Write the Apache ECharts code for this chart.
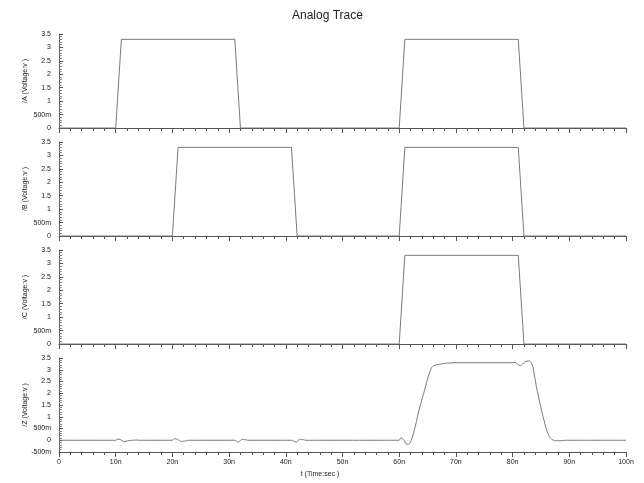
<!DOCTYPE html>
<html>
<head>
<meta charset="utf-8">
<script src="https://cdn.jsdelivr.net/npm/echarts@6/dist/echarts.min.js"></script>
<style>html,body{margin:0;padding:0;background:#fff}#c{width:644px;height:483px}</style>
</head>
<body>
<div id="c"></div>
<script>
// Data (time in ns, voltage in V)
const aTime = [0, 10, 11, 31, 32, 60, 61, 81, 82, 100];
const aVolt = [0, 0, 3.3, 3.3, 0, 0, 3.3, 3.3, 0, 0];
const bTime = [0, 20, 21, 41, 42, 60, 61, 81, 82, 100];
const bVolt = [0, 0, 3.3, 3.3, 0, 0, 3.3, 3.3, 0, 0];
const cTime = [0, 60, 61, 81, 82, 100];
const cVolt = [0, 0, 3.3, 3.3, 0, 0];
const zTime = [0, 10, 10.4, 10.8, 11.5, 12.2, 13, 13.6, 14.2, 20, 20.4, 20.9, 21.6, 22.3, 23, 31, 31.6, 32.2, 32.6, 33.3, 41, 41.8, 42.4, 42.8, 43.5,
  60, 60.3, 60.8, 61.2, 61.6, 62, 62.5, 63, 63.4, 64.3, 65.1, 65.7, 66.1, 66.6, 67.5, 68.4, 70,
  80.5, 80.9, 81.4, 81.8, 82.2, 82.9, 83.3, 83.6, 84.2, 85.1, 86, 86.5, 86.9, 87.5, 88.5, 89.5, 100];
const zVolt = [0, 0, 0.05, 0.03, -0.06, -0.02, 0, 0.01, 0, 0, 0.07, 0.04, -0.05, -0.03, 0, 0, -0.08, 0.03, 0.04, 0, 0, -0.08, 0.03, 0.04, 0,
  0, 0.1, 0.02, -0.15, -0.18, -0.08, 0.28, 0.75, 1.2, 1.98, 2.69, 3.09, 3.17, 3.21, 3.25, 3.28, 3.3,
  3.3, 3.24, 3.17, 3.25, 3.34, 3.38, 3.3, 3.1, 2.28, 1.28, 0.43, 0.15, 0.04, -0.02, -0.02, 0, 0];
const yNames = ['/A (Voltage:v )', '/B (Voltage:v )', '/C (Voltage:v )', '/Z (Voltage:v )'];
const xTickMax = 100, xTickStep = 10;

const pair = (xs, ys) => xs.map((x, i) => [x, ys[i]]);
const seriesData = [pair(aTime, aVolt), pair(bTime, bVolt), pair(cTime, cVolt), pair(zTime, zVolt)];

const tops = [34, 142, 250, 358];
const axisColor = '#555';
const textColor = '#222';
const font = 'Liberation Sans, Arial, sans-serif';

const grids = tops.map(t => ({left: 59, right: 18, top: t, height: 94}));
const xAxes = tops.map((t, i) => ({
  type: 'value', gridIndex: i, min: 0, max: xTickMax, interval: xTickStep,
  axisLine: {show: true, onZero: i < 3, lineStyle: {color: axisColor, width: 1}},
  axisTick: {show: true, inside: false, length: 5, lineStyle: {color: axisColor}},
  minorTick: {show: true, splitNumber: 5, length: 3, lineStyle: {color: axisColor}},
  splitLine: {show: false},
  axisLabel: {show: i === 3, fontSize: 7, color: textColor, fontFamily: font, margin: 7,
    formatter: v => v === 0 ? '0' : v + 'n'},
  name: i === 3 ? 't (Time:sec )' : '', nameLocation: 'middle', nameGap: 19, nameMoveOverlap: false,
  nameTextStyle: {fontSize: 7, color: textColor, fontFamily: font, padding: [0, 45, 0, 0]}
}));
const yAxes = tops.map((t, i) => ({
  type: 'value', gridIndex: i, min: i === 3 ? -0.5 : 0, max: 3.5, interval: 0.5,
  axisLine: {show: true, lineStyle: {color: axisColor, width: 1}},
  axisTick: {show: true, inside: true, length: 4, lineStyle: {color: axisColor}},
  minorTick: {show: true, splitNumber: 5, length: 3, lineStyle: {color: '#888'}},
  splitLine: {show: false},
  axisLabel: {fontSize: 7, color: textColor, fontFamily: font, margin: 8,
    formatter: v => v === 0 ? '0' : (Math.abs(v) < 1 ? Math.round(v * 1000) + 'm' : String(v))},
  name: yNames[i], nameLocation: 'middle', nameGap: 30, nameRotate: 90, nameMoveOverlap: false,
  nameTextStyle: {fontSize: 7, color: textColor, fontFamily: font}
}));
const series = seriesData.map((d, i) => ({
  type: 'line', xAxisIndex: i, yAxisIndex: i, data: d, showSymbol: false, symbol: 'none',
  smooth: i === 3 ? 0.2 : false,
  lineStyle: {color: '#7a7a7a', width: 1}, animation: false
}));

const chart = echarts.init(document.getElementById('c'), null, {renderer: 'canvas'});
chart.setOption({
  animation: false,
  backgroundColor: '#fff',
  title: {text: 'Analog Trace', left: 287, top: 5,
    textStyle: {fontSize: 12, fontWeight: 'normal', color: textColor, fontFamily: font}},
  grid: grids, xAxis: xAxes, yAxis: yAxes, series: series
});
</script>
</body>
</html>
